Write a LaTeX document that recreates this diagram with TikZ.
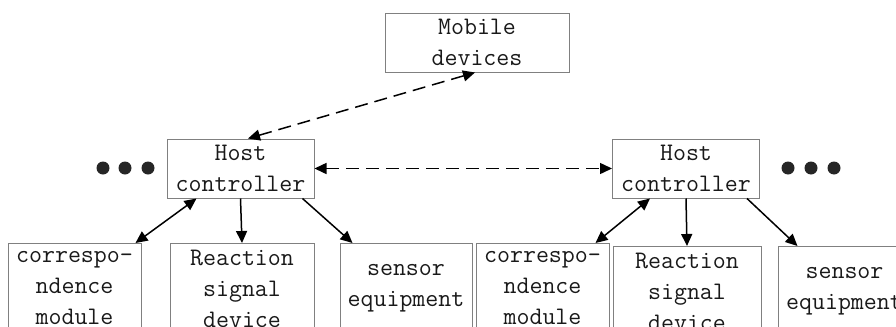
\documentclass[tikz,border=0pt]{standalone}
\usetikzlibrary{arrows.meta}

\tikzset{
  unit/.style={
    draw=gray,
    line width=0.5pt,
    inner sep=1pt,
    align=center,
    text=black!90,
    font=\ttfamily\fontsize{12.6}{15.5}\selectfont
  },
  host/.style={
    unit,
    minimum width=73.5pt,
    minimum height=29.5pt
  },
  part/.style={
    unit,
    anchor=north,
    minimum height=45pt
  },
  link/.style={
    line width=0.75pt,
    -{Triangle[length=6pt,width=5.5pt]}
  },
  both links/.style={
    link,
    {Triangle[length=6pt,width=5.5pt]}-{Triangle[length=6pt,width=5.5pt]}
  },
  wireless/.style={
    both links,
    dash pattern=on 6.5pt off 3.5pt
  },
  more/.style={
    circle,
    fill=black!85,
    inner sep=0pt,
    minimum size=6.5pt
  }
}

\begin{document}
\begin{tikzpicture}[x=0.5pt, y=-0.5pt, shorten >=0pt]
    \useasboundingbox (0,0) rectangle (896,327);
    \clip (0,0) rectangle (896,327);
    \node[unit, minimum width=92pt, minimum height=29.5pt] at (477,42.5) (mobile) {Mobile\\devices};
    \node[host] at (240.5,168.5) (hostL) {Host\\controller};
    \node[host] at (686,168.5) (hostR) {Host\\controller};
    % left group
    \node[part, minimum width=66.5pt] at (74.5,243) (commL) {correspo-\\ndence\\module};
    \node[part, minimum width=72pt] at (242,243) (reactL) {Reaction\\signal\\device};
    \node[part, minimum width=66pt] at (406,243) (sensorL) {sensor\\equipment};
    % right group
    \node[part, minimum width=66.5pt] at (542.5,243) (commR) {correspo-\\ndence\\module};
    \node[part, minimum width=74pt] at (687,246) (reactR) {Reaction\\signal\\device};
    \node[part, minimum width=66.5pt] at (844.5,246) (sensorR) {sensor\\equipment};
    \foreach \x [count=\i] in {103,125,148}
      \node[more] at (\x,168) (dotL\i) {};
    \foreach \x [count=\i] in {788,811,834}
      \node[more] at (\x,168) (dotR\i) {};
    \path
      ([xshift=3.75pt]hostL.north) edge[wireless] ([xshift=-1pt]mobile.south)
      (hostL.east) edge[wireless] (hostR.west)
      ([xshift=15pt]hostL.south west) edge[both links] ([xshift=-3pt]commL.north east)
      (hostL.south) edge[link] (reactL.north)
      ([xshift=-6pt]hostL.south east) edge[link] ([xshift=6.5pt]sensorL.north west)
      ([xshift=19pt]hostR.south west) edge[both links] ([xshift=-7pt]commR.north east)
      (hostR.south) edge[link] (reactR.north)
      ([xshift=-6.5pt]hostR.south east) edge[link] ([xshift=10pt]sensorR.north west);
\end{tikzpicture}
\end{document}
